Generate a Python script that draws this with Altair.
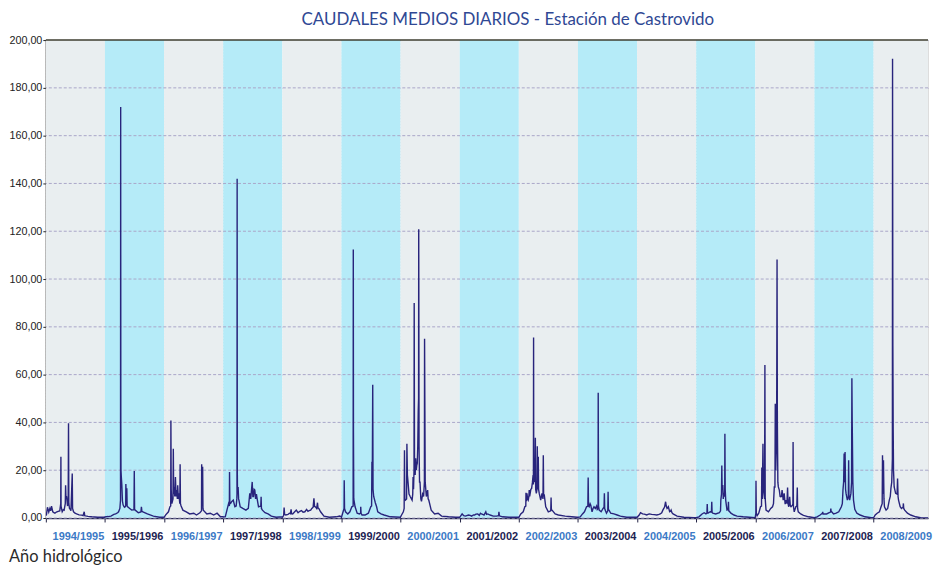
import altair as alt
import pandas as pd

# ---------------- data ----------------
YEAR_LABELS = ["1994/1995", "1995/1996", "1996/1997", "1997/1998", "1998/1999",
               "1999/2000", "2000/2001", "2001/2002", "2002/2003", "2003/2004",
               "2004/2005", "2005/2006", "2006/2007", "2007/2008", "2008/2009"]

# (day of hydrological year, daily mean flow) pairs per year
Y1994 = [(0, 1.0), (4, 1.5), (10, 4.5), (18, 2.5), (25, 4.0), (30, 3.0), (35, 5.0), (40, 3.5),
         (43, 2.6), (50, 2.2), (56, 2.0), (65, 2.5), (76, 2.8), (86, 3.0), (92, 6.0), (93, 25.6),
         (94, 5.0), (101, 2.6), (108, 3.5), (113, 3.3), (120, 6.0), (122, 13.7), (124, 9.0),
         (128, 8.9), (134, 5.0), (138, 8.0), (140, 39.7), (142, 6.0), (146, 4.0), (152, 3.5),
         (155, 3.0), (163, 18.6), (165, 4.0), (171, 2.6), (180, 2.0), (190, 1.7), (205, 1.3),
         (221, 1.2), (230, 1.0), (237, 2.6), (240, 1.0), (245, 0.9), (260, 0.7), (283, 0.5),
         (320, 0.3), (364, 0.3)]
Y1995 = [(0, 0.5), (20, 0.6), (37, 0.8), (55, 1.5), (66, 1.7), (78, 2.2), (84, 2.6), (92, 4.0),
         (96, 7.5), (97, 172.0), (98, 38.7), (99, 20.0), (101, 17.2), (104, 14.0), (108, 7.0),
         (112, 5.5), (118, 4.7), (122, 4.5), (128, 5.0), (129, 14.2), (132, 8.0), (135, 12.4),
         (137, 5.0), (140, 4.7), (153, 4.0), (165, 3.3), (179, 3.5), (181, 19.7), (183, 3.5),
         (187, 3.3), (206, 2.2), (222, 2.5), (225, 4.7), (228, 2.8), (234, 2.6), (262, 1.7),
         (299, 0.8), (337, 0.3), (364, 0.3)]
Y1996 = [(0, 0.3), (10, 1.3), (27, 2.6), (36, 4.7), (41, 5.0), (42, 40.8), (44, 12.0), (48, 6.0),
         (55, 8.0), (57, 29.0), (59, 10.0), (63, 13.0), (66, 9.0), (70, 17.2), (74, 9.0),
         (78, 11.7), (82, 8.0), (84, 13.7), (88, 8.0), (91, 10.3), (97, 6.0), (99, 22.5),
         (101, 6.0), (105, 5.0), (116, 3.3), (137, 2.6), (158, 1.7), (183, 2.0), (200, 1.25),
         (221, 2.2), (231, 3.0), (232, 22.5), (236, 8.0), (238, 21.4), (240, 4.0), (242, 3.3),
         (264, 1.7), (285, 2.0), (306, 1.25), (327, 2.0), (348, 0.5), (364, 0.5)]
Y1997 = [(0, 0.4), (13, 0.6), (23, 3.3), (33, 6.0), (38, 5.0), (39, 19.3), (41, 6.0), (45, 6.0),
         (52, 6.8), (62, 7.5), (72, 4.7), (80, 5.0), (84, 8.0), (85, 10.0), (86, 142.0),
         (87, 20.0), (88, 12.0), (92, 13.0), (95, 8.0), (97, 7.5), (105, 4.7), (121, 4.0),
         (140, 3.3), (155, 4.0), (164, 10.3), (170, 8.0), (175, 12.0), (179, 15.1), (183, 9.0),
         (187, 9.0), (191, 12.0), (195, 11.7), (200, 8.0), (205, 10.0), (209, 8.2), (218, 4.7),
         (232, 5.0), (234, 8.9), (236, 4.0), (242, 3.3), (258, 2.2), (277, 1.7), (297, 0.8),
         (326, 0.3), (364, 0.5)]
Y1998 = [(0, 0.3), (8, 1.0), (11, 4.4), (14, 1.5), (21, 1.25), (35, 1.5), (43, 2.0), (50, 1.8),
         (54, 3.6), (57, 1.8), (64, 1.7), (75, 2.5), (86, 3.3), (97, 2.2), (108, 2.8), (118, 3.1),
         (128, 2.4), (139, 2.6), (150, 3.6), (158, 2.8), (165, 3.1), (175, 3.3), (182, 4.0),
         (190, 4.5), (195, 8.2), (199, 4.8), (204, 4.7), (212, 4.0), (217, 6.4), (220, 4.2),
         (225, 4.0), (236, 2.6), (257, 0.8), (290, 0.3), (333, 0.5), (354, 0.8), (364, 0.5)]
Y1999 = [(0, 0.3), (10, 2.6), (16, 4.0), (17, 15.8), (19, 4.0), (25, 2.6), (39, 1.7), (52, 2.6),
         (64, 4.7), (72, 5.0), (73, 112.4), (74, 36.7), (76, 8.0), (84, 4.7), (97, 2.0),
         (111, 1.7), (118, 2.0), (119, 4.7), (121, 2.0), (127, 1.25), (146, 1.25), (166, 2.0),
         (181, 4.7), (186, 5.0), (188, 23.5), (190, 12.0), (193, 55.8), (195, 12.0), (199, 9.0),
         (209, 6.4), (217, 4.7), (224, 2.6), (244, 1.7), (263, 1.25), (302, 0.5), (364, 0.3)]
Y2000 = [(0, 0.5), (6, 1.25), (17, 2.6), (22, 4.0), (24, 28.3), (26, 8.0), (30, 7.5), (37, 8.0),
         (39, 31.1), (42, 18.0), (45, 15.8), (52, 10.0), (60, 8.9), (71, 7.5), (75, 10.0),
         (77, 17.2), (80, 12.0), (83, 20.0), (84, 90.0), (86, 21.4), (90, 18.0), (93, 25.0),
         (97, 20.0), (100, 22.0), (103, 22.8), (106, 30.0), (109, 45.0), (111, 50.0),
         (112, 120.8), (114, 30.0), (117, 15.0), (120, 15.0), (125, 8.0), (129, 7.0),
         (136, 10.0), (142, 9.0), (147, 15.0), (148, 75.0), (150, 45.0), (152, 15.0),
         (159, 9.0), (167, 11.7), (170, 8.0), (174, 7.5), (189, 3.3), (210, 1.7), (232, 2.0),
         (253, 0.8), (296, 0.5), (339, 0.3), (364, 0.3)]
Y2001 = [(0, 0.3), (15, 1.7), (25, 1.0), (35, 0.8), (54, 1.25), (65, 1.1), (73, 0.8), (85, 1.3),
         (92, 1.25), (100, 1.6), (111, 1.7), (121, 1.1), (128, 2.0), (134, 1.7), (142, 1.5),
         (150, 1.25), (161, 2.6), (166, 1.5), (173, 1.7), (188, 1.25), (207, 0.8), (227, 0.8),
         (240, 1.0), (242, 2.6), (245, 1.0), (250, 0.8), (265, 0.5), (304, 0.3), (342, 0.3),
         (364, 0.3)]
Y2002 = [(0, 0.3), (12, 1.7), (27, 2.6), (37, 4.7), (43, 5.0), (44, 10.6), (47, 7.0), (50, 10.3),
         (54, 8.0), (58, 7.5), (62, 9.0), (64, 11.7), (67, 9.0), (70, 10.3), (74, 12.0),
         (79, 12.4), (84, 15.0), (88, 18.0), (90, 14.0), (91, 75.5), (92, 20.0), (95, 17.9),
         (99, 15.0), (102, 33.6), (104, 12.0), (108, 10.3), (112, 12.0), (114, 30.0),
         (116, 12.0), (120, 25.6), (122, 12.0), (126, 10.3), (135, 7.5), (143, 10.3), (149, 8.0),
         (151, 26.25), (153, 9.7), (157, 9.7), (166, 4.7), (182, 2.6), (197, 3.0), (199, 8.6),
         (201, 3.3), (205, 3.3), (224, 1.7), (244, 1.25), (286, 0.8), (327, 0.5), (359, 0.3),
         (364, 0.3)]
Y2003 = [(0, 0.3), (14, 0.5), (28, 1.7), (40, 2.6), (53, 4.7), (61, 5.0), (63, 16.9), (65, 5.0),
         (69, 4.7), (75, 6.0), (79, 5.4), (87, 2.6), (93, 4.0), (99, 4.7), (107, 4.0), (115, 5.0),
         (119, 3.6), (124, 4.0), (125, 52.4), (127, 5.0), (131, 3.3), (143, 2.6), (155, 4.0),
         (161, 4.5), (163, 10.3), (165, 4.0), (168, 3.3), (176, 2.0), (184, 3.0), (186, 11.0),
         (188, 3.5), (192, 3.3), (202, 2.0), (222, 1.7), (242, 1.25), (262, 0.8), (301, 0.3),
         (351, 0.3), (364, 0.3)]
Y2004 = [(0, 0.3), (13, 1.25), (21, 2.2), (34, 1.7), (45, 1.6), (59, 1.25), (75, 1.7), (90, 1.5),
         (105, 1.4), (122, 1.25), (135, 1.5), (143, 1.7), (152, 2.2), (159, 3.3), (165, 4.0),
         (170, 4.7), (176, 6.8), (180, 5.0), (185, 4.0), (189, 4.3), (193, 4.7), (201, 2.6),
         (206, 2.8), (210, 3.3), (215, 2.2), (222, 1.7), (247, 0.8), (289, 0.3), (352, 0.1),
         (364, 0.1)]
Y2005 = [(0, 0.1), (17, 0.5), (36, 1.7), (49, 2.2), (60, 1.7), (66, 2.0), (68, 5.8), (70, 2.2),
         (73, 2.0), (86, 2.6), (94, 2.5), (96, 6.8), (98, 2.3), (102, 2.0), (120, 1.7),
         (143, 2.2), (150, 3.0), (152, 7.5), (156, 10.0), (158, 22.0), (160, 12.0), (164, 13.75),
         (167, 8.0), (169, 10.3), (174, 9.0), (176, 12.0), (177, 35.3), (179, 12.0), (182, 7.5),
         (190, 3.3), (197, 3.5), (199, 6.8), (201, 3.0), (207, 2.6), (214, 2.0), (233, 1.25),
         (252, 0.8), (290, 0.5), (327, 0.3), (364, 0.1)]
Y2006 = [(0, 0.5), (3, 2.0), (4, 15.6), (6, 2.0), (11, 1.0), (21, 2.0), (32, 4.7), (38, 5.0),
         (40, 21.1), (43, 8.0), (47, 31.1), (50, 12.0), (53, 10.3), (57, 8.0), (59, 64.0),
         (61, 8.0), (66, 3.3), (81, 2.6), (95, 4.0), (106, 4.7), (112, 6.0), (117, 13.0),
         (121, 13.0), (123, 47.8), (126, 20.0), (130, 30.0), (132, 52.6), (134, 108.2),
         (136, 40.0), (139, 15.0), (142, 13.0), (148, 11.7), (153, 9.0), (157, 8.9), (161, 9.0),
         (165, 11.7), (172, 7.5), (178, 10.3), (184, 5.8), (191, 7.5), (195, 6.0), (199, 12.8),
         (202, 6.0), (206, 4.7), (212, 8.9), (216, 5.0), (220, 4.7), (229, 5.4), (232, 6.0),
         (233, 31.8), (235, 5.0), (240, 2.6), (250, 4.7), (256, 5.0), (259, 12.8), (261, 4.0),
         (265, 2.6), (280, 1.7), (297, 1.1), (329, 0.5), (364, 0.1)]
Y2007 = [(0, 0.1), (16, 0.5), (35, 1.25), (49, 2.0), (51, 2.6), (53, 1.7), (59, 1.7), (75, 1.7),
         (91, 2.2), (99, 2.5), (101, 4.0), (103, 2.6), (106, 2.6), (118, 1.7), (134, 2.0),
         (150, 2.6), (166, 4.7), (172, 6.0), (176, 11.7), (180, 15.0), (183, 27.0), (186, 15.0),
         (189, 27.6), (192, 12.0), (195, 10.3), (203, 7.5), (209, 9.0), (211, 24.2), (213, 9.0),
         (217, 7.5), (225, 10.3), (229, 15.0), (231, 58.5), (233, 40.8), (237, 15.0), (241, 7.5),
         (249, 3.6), (262, 2.0), (282, 1.25), (312, 0.5), (351, 0.1), (364, 0.1)]
Y2008 = [(0, 0.1), (10, 1.25), (22, 2.0), (36, 2.6), (46, 4.7), (53, 6.0), (55, 26.25),
         (58, 10.0), (61, 24.2), (64, 8.0), (67, 4.7), (77, 3.3), (87, 4.0), (97, 7.5), (103, 9.0),
         (107, 12.4), (112, 15.0), (116, 25.0), (117, 192.2), (119, 72.0), (121, 36.7),
         (123, 20.0), (127, 13.0), (136, 10.3), (145, 10.0), (148, 16.5), (151, 9.0), (154, 7.5),
         (164, 4.7), (172, 4.0), (182, 4.5), (184, 6.1), (186, 4.0), (192, 3.3), (209, 2.0),
         (229, 1.25), (260, 0.5), (290, 0.1), (330, 0.0), (364, 0.0)]

YEARS_DATA = [Y1994, Y1995, Y1996, Y1997, Y1998, Y1999, Y2000, Y2001,
              Y2002, Y2003, Y2004, Y2005, Y2006, Y2007, Y2008]

Y_TICKS = list(range(0, 201, 20))

# ---------------- layout / style ----------------
W, H = 886, 480
YEAR_LEN = 365
X_MAX = 15 * YEAR_LEN - 29          # last year is cut at the right edge
BAND_FILL = ["#e9eef0", "#b5ebf8"]
LABEL_FILL = ["#3c7ac6", "#1d2453"]
LINE_COLOR = "#28247c"

rows = []
for i, pts in enumerate(YEARS_DATA):
    for d, q in pts:
        rows.append({"t": i * YEAR_LEN + d, "q": q})
flow = pd.DataFrame(rows)

bands = pd.DataFrame({
    "start": [i * YEAR_LEN for i in range(len(YEAR_LABELS))],
    "end": [(i + 1) * YEAR_LEN for i in range(len(YEAR_LABELS))],
    "mid": [i * YEAR_LEN + YEAR_LEN / 2 for i in range(len(YEAR_LABELS))],
    "label": YEAR_LABELS,
    "fill": [BAND_FILL[i % 2] for i in range(len(YEAR_LABELS))],
    "tcolor": [LABEL_FILL[i % 2] for i in range(len(YEAR_LABELS))],
})

xscale = alt.Scale(domain=[0, X_MAX], nice=False, zero=False)
yscale = alt.Scale(domain=[0, 200], nice=False)

x_axis = alt.Axis(values=[i * YEAR_LEN for i in range(16)], labels=False, title=None,
                  tickColor="#222244", tickSize=4, domainColor="#2a2a55", domainWidth=1.3,
                  grid=True, gridColor="#bcc4c8", gridDash=[1, 2], gridWidth=0.8)
y_axis = alt.Axis(values=Y_TICKS, title=None,
                  labelExpr="replace(format(datum.value, '.2f'), '.', ',')",
                  labelFont="Liberation Sans", labelFontSize=10.8, labelColor="#222222",
                  labelPadding=1, tickSize=3, tickColor="#222222",
                  domainColor="#333333", domainWidth=1.3,
                  grid=True, gridColor="#a9a6c9", gridDash=[3, 2], gridWidth=1)

band_layer = alt.Chart(bands).mark_rect(clip=True).encode(
    x=alt.X("start:Q", scale=xscale, axis=x_axis),
    x2="end:Q",
    fill=alt.Fill("fill:N", scale=None),
)

grid_layer = alt.Chart(pd.DataFrame({"v": Y_TICKS[:-1]})).mark_rule(
    color="#a9a6c9", strokeDash=[3, 2], strokeWidth=1
).encode(y=alt.Y("v:Q", scale=yscale, axis=y_axis))

line_layer = alt.Chart(flow).mark_line(color=LINE_COLOR, strokeWidth=1.4, clip=True).encode(
    x=alt.X("t:Q", scale=xscale),
    y=alt.Y("q:Q", scale=yscale),
)

top_rule = alt.Chart(pd.DataFrame({"v": [200]})).mark_rule(
    color="#3e3e30", strokeWidth=1.5
).encode(y=alt.Y("v:Q", scale=yscale))

year_text = alt.Chart(bands).mark_text(
    font="Liberation Sans", fontSize=11, fontWeight="bold", baseline="middle", dx=3
).encode(
    x=alt.X("mid:Q", scale=xscale),
    y=alt.value(H + 19),
    text="label:N",
    color=alt.Color("tcolor:N", scale=None),
)

title_text = alt.Chart(pd.DataFrame({"s": ["CAUDALES MEDIOS DIARIOS - Estación de Castrovido"]})).mark_text(
    font="Lato", fontSize=17, color="#2f4894", baseline="middle", align="center"
).encode(x=alt.value(464), y=alt.value(-20), text="s:N")

xlabel_text = alt.Chart(pd.DataFrame({"s": ["Año hidrológico"]})).mark_text(
    font="Lato", fontSize=16.5, color="#2a2a2a", baseline="middle", align="left"
).encode(x=alt.value(-37), y=alt.value(H + 39), text="s:N")

chart = alt.layer(
    band_layer, grid_layer, line_layer, top_rule, year_text, title_text, xlabel_text
).properties(
    width=W, height=H, padding={"left": 0, "top": 2, "right": 0, "bottom": 0}
).configure_view(stroke=None).configure(background="white")

chart.save("out.html", embed_options={"renderer": "svg", "actions": False})
